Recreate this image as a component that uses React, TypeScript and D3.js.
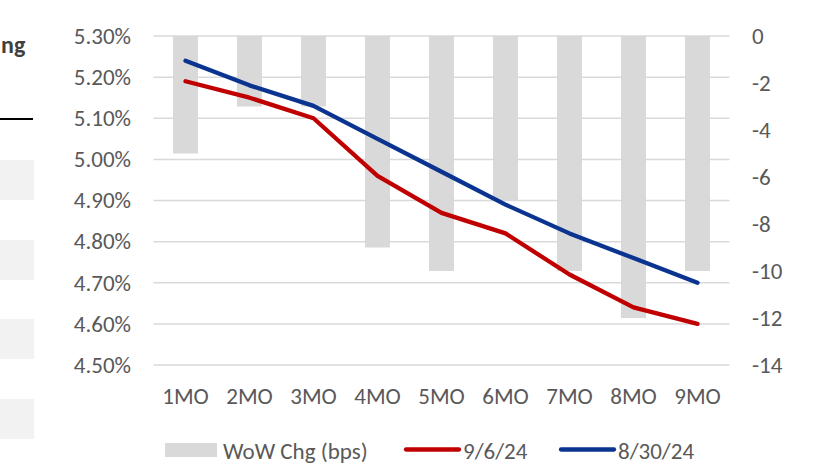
import React from "react";
import * as d3 from "d3";

const categories = ["1MO", "2MO", "3MO", "4MO", "5MO", "6MO", "7MO", "8MO", "9MO"];
const wowChg = [-5, -3, -3, -9, -10, -7, -10, -12, -10];
const sep6 = [5.19, 5.15, 5.1, 4.96, 4.87, 4.82, 4.72, 4.64, 4.6];
const aug30 = [5.24, 5.18, 5.13, 5.05, 4.97, 4.89, 4.82, 4.76, 4.7];
const leftTicks = [4.5, 4.6, 4.7, 4.8, 4.9, 5.0, 5.1, 5.2, 5.3];
const rightTicks = [0, -2, -4, -6, -8, -10, -12, -14];
const seriesNames = ["WoW Chg (bps)", "9/6/24", "8/30/24"];

const W = 822;
const H = 467;
const FONT = "Calibri, Carlito, 'Open Sans', sans-serif";
const TEXT = "#595959";
const GRID = "#D9D9D9";
const BAR = "#D9D9D9";
const RED = "#C00000";
const BLUE = "#0A3490";
const FS = 23;

export default function App() {
  const left = 153.5;
  const right = 729.5;
  const top = 36;
  const bottom = 365;

  const x = d3
    .scaleBand<string>()
    .domain(categories)
    .range([left, right])
    .paddingInner(0.61)
    .paddingOuter(0.305);
  const yL = d3.scaleLinear().domain([4.5, 5.3]).range([bottom, top]);
  const yR = d3.scaleLinear().domain([-14, 0]).range([bottom, top]);
  const cx = (c: string) => (x(c) as number) + x.bandwidth() / 2;

  const line = d3
    .line<number>()
    .x((_, i) => cx(categories[i]))
    .y((d) => yL(d));

  return (
    <div style={{ position: "fixed", left: 0, top: 0 }}>
      <svg width={W} height={H} style={{ display: "block", background: "#fff" }} fontFamily={FONT}>
        {/* left cropped panel fragments */}
        <text x={1} y={53} textAnchor="start" fontSize={24} fontWeight={700} fill="#404040">
          ng
        </text>
        <rect x={0} y={118} width={33} height={2} fill="#000" />
        {[160, 240, 319, 399].map((yy) => (
          <rect key={yy} x={0} y={yy} width={34} height={40} fill="#F2F2F2" />
        ))}

        {/* gridlines */}
        {leftTicks.map((t) => (
          <line key={t} x1={left} x2={right} y1={yL(t)} y2={yL(t)} stroke={GRID} strokeWidth={1.5} />
        ))}

        {/* bars */}
        {categories.map((c, i) => (
          <rect
            key={c}
            x={x(c)}
            y={yR(0)}
            width={x.bandwidth()}
            height={yR(wowChg[i]) - yR(0)}
            fill={BAR}
          />
        ))}

        {/* lines */}
        <path d={line(aug30) || ""} fill="none" stroke={BLUE} strokeWidth={4.3} strokeLinecap="round" strokeLinejoin="round" />
        <path d={line(sep6) || ""} fill="none" stroke={RED} strokeWidth={4.3} strokeLinecap="round" strokeLinejoin="round" />

        {/* left axis labels */}
        {leftTicks.map((t) => (
          <text key={t} x={131} y={yL(t)} dy="0.34em" textAnchor="end" fontSize={FS} fill={TEXT}>
            {t.toFixed(2) + "%"}
          </text>
        ))}
        {/* right axis labels */}
        {rightTicks.map((t) => (
          <text key={t} x={752} y={yR(t)} dy="0.34em" textAnchor="start" fontSize={FS} fill={TEXT}>
            {String(t)}
          </text>
        ))}
        {/* x labels */}
        {categories.map((c) => (
          <text key={c} x={cx(c)} y={404} textAnchor="middle" fontSize={FS} fill={TEXT}>
            {c}
          </text>
        ))}

        {/* legend */}
        <rect x={165} y={443} width={52} height={14} fill={BAR} />
        <text x={223} y={459} fontSize={FS} fill={TEXT}>{seriesNames[0]}</text>
        <line x1={406} x2={459} y1={449.5} y2={449.5} stroke={RED} strokeWidth={4.3} strokeLinecap="round" />
        <text x={463} y={459} fontSize={FS} fill={TEXT}>{seriesNames[1]}</text>
        <line x1={561} x2={614} y1={449.5} y2={449.5} stroke={BLUE} strokeWidth={4.3} strokeLinecap="round" />
        <text x={618} y={459} fontSize={FS} fill={TEXT}>{seriesNames[2]}</text>
      </svg>
    </div>
  );
}
